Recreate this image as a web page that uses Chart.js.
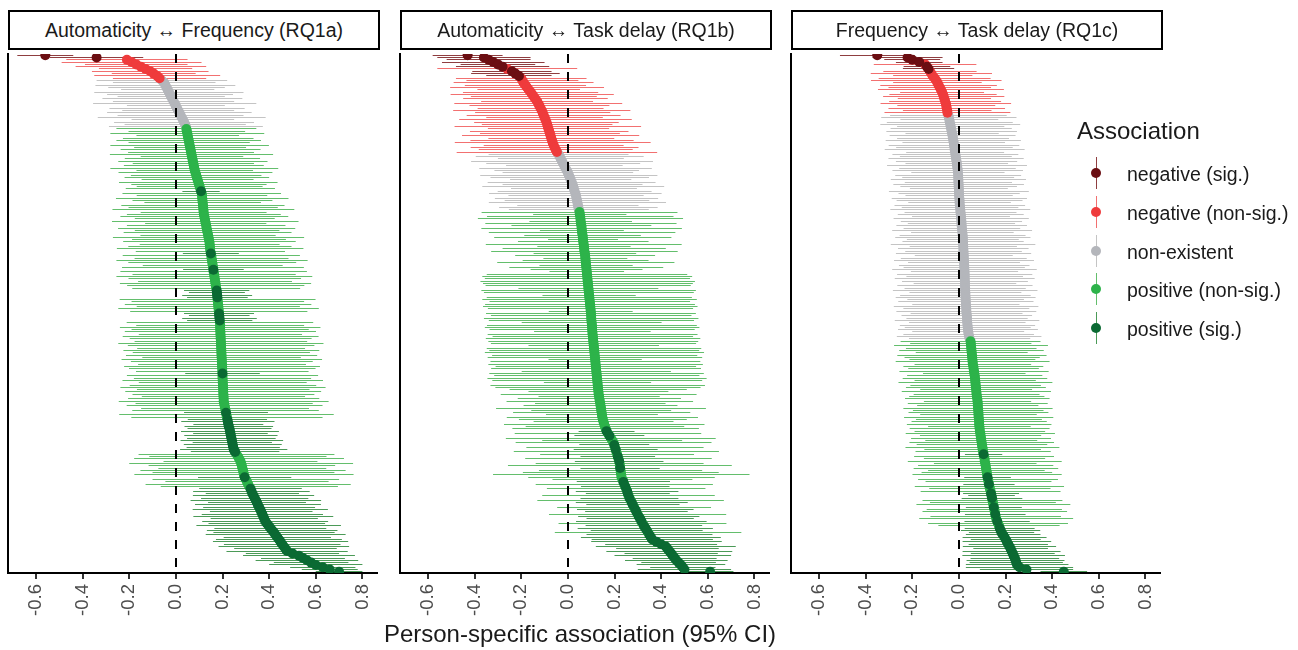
<!DOCTYPE html>
<html>
<head>
<meta charset="utf-8">
<script src="https://cdn.jsdelivr.net/npm/chart.js@4.4.1/dist/chart.umd.min.js"></script>
<style>
  body { margin: 0; background: #fff; }
  #wrap { position: relative; width: 1298px; height: 650px; overflow: hidden;
          font-family: "Liberation Sans", Arial, Helvetica, sans-serif; color: #1a1a1a; }
  #wrap canvas { position: absolute; }
  .strip { position: absolute; top: 10px; height: 40px; box-sizing: border-box; border: 2px solid #000;
           background: #fff; text-align: center; font-size: 19.5px; line-height: 36px; z-index: 2; white-space: nowrap; }
  .xtitle { position: absolute; left: 8px; width: 1144px; top: 622px; text-align: center;
            font-size: 24px; line-height: 24px; white-space: nowrap; }
  .legTitle { position: absolute; left: 1077px; top: 119px; font-size: 24px; line-height: 24px; }
  .legLine { position: absolute; width: 1px; height: 32px; }
  .legDot { position: absolute; width: 10px; height: 10px; border-radius: 50%; }
  .legLabel { position: absolute; left: 1127px; font-size: 19.5px; line-height: 20px; white-space: nowrap; }
</style>
</head>
<body>
<div id="wrap"></div>
<script>
// Person-specific associations, one row per person, sorted by estimate (row 0 at top).
// Categories: D = negative (sig.), R = negative (non-sig.), G = non-existent,
//             L = positive (non-sig.), K = positive (sig.)

const X_TICKS = [-0.6, -0.4, -0.2, 0, 0.2, 0.4, 0.6, 0.8];
const PANEL_TITLES = [
  'Automaticity \u2194 Frequency (RQ1a)',
  'Automaticity \u2194 Task delay (RQ1b)',
  'Frequency \u2194 Task delay (RQ1c)'
];
const CAT_CODES = ['D', 'R', 'G', 'L', 'K'];
const CAT_LABELS = ['negative (sig.)', 'negative (non-sig.)', 'non-existent', 'positive (non-sig.)', 'positive (sig.)'];

// ---- RQ1a ----
const estA = [
  -0.56, -0.34,
  -0.21, -0.19, -0.17, -0.15, -0.13, -0.11, -0.095, -0.08, -0.07,
  -0.06, -0.05, -0.045, -0.04, -0.035, -0.03, -0.025, -0.02, -0.015, -0.01,
  -0.005, 0, 0.005, 0.01, 0.015, 0.02, 0.025, 0.03, 0.035, 0.04, 0.043,
  0.045, 0.047, 0.049, 0.051, 0.053, 0.055, 0.057, 0.059, 0.061, 0.063,
  0.065, 0.067, 0.069, 0.071, 0.073, 0.075, 0.077, 0.079, 0.081,
  0.084, 0.087, 0.09, 0.093, 0.096, 0.099, 0.102, 0.105, 0.108,
  0.111, 0.112, 0.113, 0.114, 0.115, 0.116, 0.117, 0.118, 0.119, 0.12,
  0.122, 0.124, 0.126, 0.128, 0.13, 0.132, 0.134, 0.136, 0.138, 0.14,
  0.142, 0.144, 0.145, 0.146, 0.147, 0.148, 0.15,
  0.152, 0.153, 0.155, 0.156, 0.158, 0.159, 0.161, 0.162, 0.164, 0.165, 0.167, 0.168, 0.17, 0.171, 0.173, 0.175,
  0.176, 0.177, 0.178, 0.179, 0.18, 0.181, 0.182, 0.183, 0.184, 0.185, 0.186, 0.187, 0.188, 0.189, 0.19,
  0.19, 0.19, 0.191, 0.191, 0.192, 0.192, 0.193, 0.193, 0.194, 0.194,
  0.195, 0.195, 0.196, 0.196, 0.197, 0.197, 0.198, 0.198, 0.199, 0.199,
  0.2, 0.2, 0.2, 0.201, 0.201, 0.202, 0.202, 0.203, 0.203, 0.204, 0.204, 0.205, 0.205,
  0.207, 0.209, 0.211, 0.213, 0.215, 0.217, 0.219, 0.221, 0.223, 0.225, 0.227, 0.23,
  0.232, 0.234, 0.236, 0.238, 0.24, 0.242, 0.244, 0.246, 0.248,
  0.254, 0.26, 0.266, 0.271, 0.277,
  0.28, 0.283, 0.285, 0.288, 0.29, 0.292, 0.295,
  0.3, 0.305, 0.31, 0.315, 0.32, 0.324, 0.328,
  0.333, 0.338, 0.343, 0.348, 0.352, 0.357,
  0.362, 0.366, 0.371, 0.375, 0.379, 0.383,
  0.39, 0.398, 0.405, 0.413, 0.421,
  0.428, 0.435, 0.442, 0.449, 0.456, 0.463, 0.47, 0.477,
  0.5, 0.528, 0.545, 0.562, 0.58, 0.6, 0.63, 0.66, 0.7
];
// half width of the 95% CI
const hwA = [
  0.12, 0.2,
  0.26, 0.3, 0.22, 0.28, 0.2, 0.25, 0.18, 0.27, 0.2,
  0.28, 0.22, 0.3, 0.25, 0.2, 0.32, 0.27, 0.23, 0.3, 0.26,
  0.35, 0.21, 0.29, 0.24, 0.31, 0.27, 0.36, 0.22, 0.3, 0.26, 0.33,
  0.3, 0.25, 0.33, 0.22, 0.28, 0.31, 0.26, 0.34, 0.24, 0.3,
  0.27, 0.35, 0.22, 0.29, 0.32, 0.26, 0.3, 0.36, 0.25, 0.33,
  0.28, 0.31, 0.24, 0.34, 0.29, 0.27, 0.32,
  0.08,
  0.34, 0.28, 0.37, 0.3, 0.25, 0.35, 0.32, 0.39, 0.27, 0.33,
  0.36, 0.3, 0.4, 0.26, 0.34, 0.38, 0.31, 0.36, 0.29, 0.41,
  0.33, 0.37, 0.3, 0.35, 0.4, 0.32,
  0.12,
  0.38, 0.33, 0.41, 0.36, 0.3, 0.39,
  0.13,
  0.4, 0.35, 0.42, 0.37, 0.33, 0.41, 0.38, 0.36,
  0.14, 0.12, 0.15, 0.13,
  0.42, 0.37, 0.4, 0.35, 0.43, 0.38,
  0.15, 0.13, 0.16, 0.14,
  0.4, 0.36, 0.43, 0.38, 0.41, 0.35, 0.42, 0.39, 0.37, 0.44,
  0.4, 0.36, 0.42, 0.38, 0.41, 0.34, 0.43, 0.39, 0.36, 0.42,
  0.4, 0.37,
  0.16,
  0.41, 0.38, 0.43, 0.36, 0.4, 0.44, 0.37, 0.42, 0.39, 0.35, 0.41, 0.45, 0.38, 0.42, 0.36, 0.4,
  0.18,
  0.46, 0.41,
  0.17, 0.2, 0.15, 0.19, 0.18, 0.21, 0.16, 0.2, 0.19, 0.22, 0.17, 0.21, 0.2, 0.23, 0.19,
  0.42, 0.38, 0.45, 0.33, 0.48, 0.4, 0.36, 0.44, 0.39, 0.47,
  0.2,
  0.4, 0.35, 0.44, 0.38,
  0.22, 0.25, 0.2, 0.26, 0.23, 0.28, 0.21, 0.27, 0.24, 0.29,
  0.22, 0.26, 0.3, 0.23, 0.27, 0.25, 0.31, 0.24, 0.28, 0.26,
  0.3, 0.23, 0.27, 0.29, 0.25, 0.28, 0.22, 0.26, 0.2, 0.24,
  0.18, 0.22, 0.16, 0.2, 0.14, 0.12, 0.1
];
const catA =
  'DDRRRRRRRRRGGGGGGGGGGGGGG' +
  'GGGGGGGLLLLLLLLLLLLLLLLLL' +
  'LLLLLLLLLKLLLLLLLLLLLLLLL' +
  'LLLLLLLLLLLKLLLLLLKLLLLLL' +
  'LLKKKKLLLLLLKKKKLLLLLLLLL' +
  'LLLLLLLLLLLLLKLLLLLLLLLLL' +
  'LLLLLKLLKKKKKKKKKKKKKKKLL' +
  'LLLLLLLLKLLLLKKKKKKKKKKKK' +
  'KKKKKKKKKKKKKKKKKKKKKKKKK';

// ---- RQ1b ----
const estB = [
  -0.43,
  -0.36, -0.34, -0.32, -0.3, -0.28, -0.26, -0.24, -0.225, -0.21,
  -0.2, -0.195, -0.19, -0.182, -0.175, -0.168, -0.16, -0.153, -0.146, -0.139,
  -0.132, -0.127, -0.122, -0.117, -0.112, -0.108, -0.104, -0.1, -0.096, -0.092,
  -0.089, -0.086, -0.083, -0.08, -0.077, -0.074, -0.071, -0.068, -0.065, -0.061,
  -0.057, -0.052, -0.047,
  -0.04, -0.035, -0.03, -0.025, -0.02, -0.015, -0.01, -0.005, 0, 0.004,
  0.008, 0.012, 0.016, 0.02, 0.023, 0.026, 0.029, 0.032, 0.035, 0.037,
  0.039, 0.041, 0.043, 0.045, 0.047,
  0.05, 0.051, 0.053, 0.054, 0.055, 0.056, 0.058, 0.059, 0.06, 0.061,
  0.063, 0.064, 0.065, 0.066, 0.068, 0.069, 0.07, 0.071, 0.073, 0.074,
  0.075, 0.076, 0.077, 0.078, 0.079, 0.08,
  0.081, 0.082, 0.083, 0.084, 0.085, 0.086, 0.087, 0.088, 0.089, 0.09,
  0.091, 0.092, 0.093, 0.094, 0.095, 0.096, 0.097, 0.098, 0.099, 0.1,
  0.1, 0.101, 0.102, 0.103, 0.104, 0.104, 0.105, 0.106, 0.107,
  0.108, 0.109, 0.11, 0.111, 0.112, 0.113, 0.114, 0.115, 0.116, 0.117,
  0.118, 0.119, 0.12, 0.121, 0.122, 0.123, 0.124, 0.125, 0.126, 0.127,
  0.128, 0.129, 0.13, 0.131, 0.132, 0.134, 0.135, 0.137,
  0.139, 0.14, 0.142, 0.143, 0.145, 0.146, 0.148, 0.15,
  0.153, 0.156, 0.159, 0.162, 0.166,
  0.172, 0.178, 0.184, 0.19, 0.196,
  0.199, 0.202, 0.205, 0.208, 0.211, 0.214, 0.217, 0.22, 0.222,
  0.223, 0.224, 0.226, 0.227, 0.229, 0.23,
  0.234, 0.238, 0.242, 0.246, 0.25, 0.254, 0.257, 0.26, 0.264,
  0.269, 0.274, 0.279, 0.284, 0.289, 0.294,
  0.299, 0.304, 0.31, 0.315, 0.32,
  0.326, 0.332, 0.338, 0.344, 0.35, 0.356, 0.362,
  0.38, 0.4, 0.42,
  0.427, 0.435, 0.443, 0.45, 0.458, 0.465,
  0.475, 0.485, 0.493, 0.5,
  0.61
];
const hwB = [
  0.15, 0.2, 0.18, 0.22, 0.16, 0.2, 0.3, 0.17, 0.19, 0.14,
  0.28, 0.24, 0.3, 0.26, 0.33, 0.22, 0.29, 0.35, 0.27, 0.31,
  0.24, 0.36, 0.3, 0.27, 0.38, 0.29, 0.33, 0.25, 0.37, 0.31,
  0.28, 0.4, 0.26, 0.34, 0.3, 0.38, 0.27, 0.35, 0.42, 0.3,
  0.36, 0.33, 0.43,
  0.3, 0.36, 0.27, 0.39, 0.33, 0.25, 0.37, 0.31, 0.28, 0.38,
  0.34, 0.26, 0.36, 0.3, 0.39, 0.27, 0.33, 0.37, 0.29, 0.35,
  0.31, 0.38, 0.26, 0.34, 0.3,
  0.42, 0.2, 0.4, 0.44, 0.22, 0.41, 0.3, 0.43, 0.18, 0.4,
  0.25, 0.38, 0.15, 0.28, 0.42, 0.2, 0.35, 0.4, 0.22, 0.3,
  0.18, 0.27, 0.38, 0.2, 0.33, 0.24, 0.16, 0.43, 0.45, 0.44,
  0.46, 0.45, 0.44, 0.3, 0.46, 0.45, 0.2, 0.44, 0.46, 0.43,
  0.45, 0.46, 0.44, 0.18, 0.45, 0.43, 0.46, 0.44, 0.3, 0.45,
  0.46, 0.44, 0.25, 0.45, 0.43, 0.46, 0.45, 0.44, 0.28, 0.46,
  0.45, 0.47, 0.44, 0.46, 0.2, 0.45, 0.46, 0.43, 0.45, 0.32,
  0.46, 0.44, 0.47, 0.45, 0.23, 0.46, 0.44, 0.38, 0.3, 0.42,
  0.26, 0.35, 0.4, 0.28, 0.33, 0.45, 0.3, 0.38, 0.24, 0.41,
  0.36, 0.3, 0.43, 0.34, 0.4,
  0.12, 0.4, 0.15, 0.45, 0.3, 0.42, 0.15, 0.38, 0.18, 0.44,
  0.33, 0.16, 0.4, 0.19, 0.36, 0.48, 0.17, 0.35, 0.42, 0.55,
  0.4, 0.3, 0.2, 0.38, 0.19, 0.34, 0.22, 0.18, 0.37, 0.21,
  0.4, 0.24, 0.2, 0.33, 0.25, 0.22, 0.38, 0.26, 0.23, 0.28,
  0.36, 0.25, 0.29, 0.24, 0.4, 0.27, 0.3, 0.26, 0.28, 0.24,
  0.3, 0.22, 0.27, 0.2, 0.25, 0.18, 0.22, 0.16, 0.19, 0.14,
  0.2, 0.1
];
const catB =
  'DDDDDDRDDDRRRRRRRRRRRRRRR' +
  'RRRRRRRRRRRRRRRRRRGGGGGGG' +
  'GGGGGGGGGGGGGGGGGGLLLLLLL' +
  'LLLLLLLLLLLLLLLLLLLLLLLLL' +
  'LLLLLLLLLLLLLLLLLLLLLLLLL' +
  'LLLLLLLLLLLLLLLLLLLLLLLLL' +
  'LLLLLLLLLLLLLKLKLLLKLKLLK' +
  'LKLLKLLLLLKLKLKKLKLKKLKKL' +
  'KKKLKKKLKKKKKKKKKKKKKKKKK';

// ---- RQ1c ----
const estC = [
  -0.35, -0.22, -0.2, -0.17, -0.145, -0.137, -0.13,
  -0.124, -0.118, -0.112, -0.104, -0.097, -0.092, -0.087, -0.082, -0.077, -0.072,
  -0.068, -0.065, -0.062, -0.059, -0.056, -0.054, -0.052, -0.05, -0.049,
  -0.045, -0.043, -0.041, -0.039, -0.037, -0.035, -0.033, -0.031, -0.029, -0.027, -0.025,
  -0.024, -0.022, -0.021, -0.019, -0.018, -0.016, -0.015, -0.013, -0.012, -0.01,
  -0.009, -0.008, -0.006, -0.005, -0.004,
  -0.003, -0.003, -0.002, -0.002, -0.001, -0.001, 0, 0, 0.001, 0.001, 0.002, 0.003, 0.003, 0.004,
  0.005, 0.006, 0.007, 0.008, 0.009, 0.01, 0.011, 0.011, 0.012, 0.013, 0.014, 0.015, 0.016, 0.017,
  0.017, 0.018, 0.018, 0.019, 0.019, 0.02, 0.02, 0.021, 0.021, 0.022,
  0.022, 0.023, 0.023, 0.024, 0.024, 0.025, 0.025, 0.025, 0.026, 0.026, 0.026,
  0.027, 0.027, 0.028, 0.028, 0.029, 0.029, 0.03, 0.03, 0.031, 0.032,
  0.032, 0.033, 0.034, 0.035, 0.035, 0.036, 0.037, 0.038, 0.039, 0.04,
  0.042, 0.044, 0.046,
  0.05, 0.051, 0.052, 0.053, 0.054, 0.055, 0.056, 0.057, 0.058, 0.059,
  0.06, 0.062, 0.063, 0.065, 0.066, 0.068,
  0.069, 0.07, 0.071, 0.072, 0.073, 0.074, 0.075, 0.076, 0.077, 0.079, 0.08,
  0.081, 0.081, 0.082, 0.083, 0.084, 0.084, 0.085, 0.086, 0.087, 0.087, 0.088, 0.089,
  0.09, 0.092, 0.093, 0.095, 0.096, 0.098, 0.099, 0.101, 0.102, 0.104, 0.106,
  0.108, 0.11, 0.111, 0.113, 0.115, 0.116, 0.118, 0.12, 0.121, 0.123,
  0.125, 0.127, 0.129, 0.131, 0.133, 0.136,
  0.138, 0.14, 0.142, 0.144, 0.146, 0.148, 0.15, 0.152, 0.154, 0.156, 0.158, 0.16,
  0.164, 0.168, 0.172, 0.175, 0.179, 0.183,
  0.19, 0.196, 0.201, 0.206, 0.212, 0.217,
  0.222, 0.226, 0.231, 0.235, 0.24,
  0.243, 0.246, 0.25, 0.26, 0.29, 0.45
];
const hwC = [
  0.16, 0.15, 0.12, 0.1, 0.22, 0.1, 0.11,
  0.2, 0.26, 0.17, 0.24, 0.28, 0.19, 0.25, 0.22, 0.27, 0.18,
  0.23, 0.26, 0.2, 0.24, 0.28, 0.21, 0.25, 0.19, 0.27,
  0.25, 0.29, 0.21, 0.27, 0.3, 0.23, 0.26, 0.28, 0.2, 0.27,
  0.24, 0.29, 0.22, 0.28, 0.25, 0.3, 0.21, 0.27, 0.24, 0.29,
  0.26, 0.22, 0.3, 0.25, 0.28, 0.2, 0.27, 0.24, 0.29, 0.23,
  0.28, 0.25, 0.21, 0.3, 0.26, 0.23, 0.29, 0.27, 0.22, 0.28,
  0.25, 0.3, 0.24, 0.27, 0.21, 0.29, 0.26, 0.23, 0.28, 0.25,
  0.3, 0.22, 0.27, 0.29, 0.24, 0.26, 0.31, 0.23, 0.28, 0.25,
  0.29, 0.21, 0.27, 0.3, 0.24, 0.28, 0.26, 0.31, 0.23, 0.29,
  0.25, 0.3, 0.27, 0.22, 0.29, 0.26, 0.31, 0.24, 0.28, 0.3,
  0.25, 0.29, 0.23, 0.31, 0.27, 0.3, 0.24, 0.28, 0.26, 0.31,
  0.25, 0.29, 0.27, 0.3, 0.24, 0.28, 0.31, 0.26,
  0.3, 0.26, 0.33, 0.28, 0.31, 0.24, 0.32, 0.29, 0.27, 0.33,
  0.25, 0.3, 0.28, 0.32, 0.22, 0.29, 0.31, 0.26, 0.33, 0.28,
  0.3, 0.24, 0.32, 0.27, 0.29, 0.31, 0.23, 0.3, 0.26, 0.32,
  0.28, 0.3, 0.25, 0.32, 0.27, 0.29, 0.31, 0.22, 0.3, 0.28,
  0.32, 0.26, 0.3, 0.24, 0.31, 0.28, 0.33, 0.25, 0.29,
  0.08,
  0.3, 0.26, 0.33, 0.22, 0.29, 0.31, 0.25, 0.28, 0.32,
  0.1,
  0.3, 0.27,
  0.11,
  0.32, 0.26, 0.3,
  0.12, 0.1, 0.13,
  0.3, 0.27, 0.33,
  0.12,
  0.29, 0.31,
  0.13,
  0.28, 0.33,
  0.14,
  0.3, 0.26,
  0.15, 0.17, 0.14, 0.16, 0.18, 0.15, 0.19, 0.17, 0.2, 0.16,
  0.21, 0.18, 0.22, 0.19, 0.21, 0.2, 0.22, 0.23, 0.2, 0.1
];
const catC =
  'DDDDRDDRRRRRRRRRRRRRRRRRR' +
  'RGGGGGGGGGGGGGGGGGGGGGGGG' +
  'GGGGGGGGGGGGGGGGGGGGGGGGG' +
  'GGGGGGGGGGGGGGGGGGGGGGGGG' +
  'GGGGGGGGGGGGGGGGGGGGGGGGL' +
  'LLLLLLLLLLLLLLLLLLLLLLLLL' +
  'LLLLLLLLLLLLLLLLLLLLLLLKL' +
  'LLLLLLLLKLLKLLLKKKLLLKLLK' +
  'LLKLLKKKKKKKKKKKKKKKKKKKK';

// ---- styling ----
const POINT_COLOR = {D: '#6b0e12', R: '#ef3b3c', G: '#b4b6bb', L: '#2db34a', K: '#0b6a33'};
const LINE_COLOR  = {D: '#8f3e40', R: '#f27070', G: '#c4c4c4', L: '#63be6c', K: '#4b9a57'};
const PANEL_LEFT = [8, 400, 791];
const PANEL_W = 372;
const PLOT_TOP = 49;
const PLOT_H = 524;
const AXIS_H = 60;
const FONT = '"Liberation Sans", Arial, Helvetica, sans-serif';

Chart.defaults.font.family = FONT;

const wrap = document.getElementById('wrap');

function addDiv(cls, css, text) {
  const d = document.createElement('div');
  d.className = cls;
  Object.assign(d.style, css);
  if (text != null) d.textContent = text;
  wrap.appendChild(d);
  return d;
}

function makePanel(idx, est, hw, cats) {
  if (est.length !== hw.length || est.length !== cats.length) {
    throw new Error('panel ' + idx + ' length mismatch: ' + est.length + ' / ' + hw.length + ' / ' + cats.length);
  }
  const n = est.length;
  const left = PANEL_LEFT[idx];

  addDiv('strip', {left: left + 'px', width: PANEL_W + 'px'}, PANEL_TITLES[idx]);

  const canvas = document.createElement('canvas');
  canvas.width = PANEL_W + 18;
  canvas.height = PLOT_H + AXIS_H;
  canvas.style.left = (left - 8) + 'px';
  canvas.style.top = PLOT_TOP + 'px';
  wrap.appendChild(canvas);

  // horizontal CI lines, drawn under the points (snapped to whole pixels so they stay crisp)
  const ciLines = {
    id: 'ciLines',
    beforeDatasetsDraw(chart) {
      const {ctx, chartArea: a, scales: {x, y}} = chart;
      ctx.save();
      ctx.beginPath();
      ctx.rect(a.left, a.top, a.right - a.left, a.bottom - a.top);
      ctx.clip();
      ctx.lineWidth = 1;
      for (let i = 0; i < n; i++) {
        const py = Math.floor(y.getPixelForValue(i)) + 0.5;
        ctx.strokeStyle = LINE_COLOR[cats[i]];
        ctx.beginPath();
        ctx.moveTo(x.getPixelForValue(est[i] - hw[i]), py);
        ctx.lineTo(x.getPixelForValue(est[i] + hw[i]), py);
        ctx.stroke();
      }
      ctx.restore();
    }
  };

  // dashed reference line at zero, on top of everything
  const zeroLine = {
    id: 'zeroLine',
    afterDatasetsDraw(chart) {
      const {ctx, chartArea: a, scales: {x}} = chart;
      const px = Math.round(x.getPixelForValue(0));
      ctx.save();
      ctx.strokeStyle = '#000';
      ctx.lineWidth = 2;
      ctx.setLineDash([9, 9]);
      ctx.beginPath();
      ctx.moveTo(px, a.top);
      ctx.lineTo(px, a.bottom);
      ctx.stroke();
      ctx.restore();
    }
  };

  // sig. categories drawn on top
  const datasets = ['K', 'D', 'L', 'R', 'G'].map(code => ({
    label: code,
    data: est.map((v, i) => ({x: v, y: i})).filter((p, i) => cats[i] === code),
    backgroundColor: POINT_COLOR[code],
    borderWidth: 0,
    pointRadius: 5,
    pointHoverRadius: 5,
    clip: 0
  }));

  new Chart(canvas, {
    type: 'scatter',
    data: {datasets},
    options: {
      responsive: false,
      animation: false,
      events: [],
      layout: {padding: {left: 7, right: 10, top: 0, bottom: 0}},
      plugins: {legend: {display: false}, tooltip: {enabled: false}},
      scales: {
        x: {
          type: 'linear',
          min: -0.72,
          max: 0.862,
          afterBuildTicks: axis => { axis.ticks = X_TICKS.map(v => ({value: v})); },
          afterFit: axis => { axis.height = AXIS_H; },
          grid: {drawOnChartArea: false, drawTicks: true, tickLength: 6, color: '#333333', lineWidth: 2},
          border: {display: true, color: '#000', width: 2},
          ticks: {
            autoSkip: false,
            minRotation: 90,
            maxRotation: 90,
            padding: 5,
            color: '#4d4d4d',
            font: {size: 18.5},
            callback: v => v.toFixed(1)
          }
        },
        y: {
          type: 'linear',
          reverse: true,
          min: -0.5,
          max: n - 0.5,
          ticks: {display: false},
          grid: {drawOnChartArea: false, drawTicks: false},
          border: {display: true, color: '#000', width: 2},
          afterFit: axis => { axis.width = 1; }
        }
      }
    },
    plugins: [ciLines, zeroLine]
  });
}

makePanel(0, estA, hwA, catA);
makePanel(1, estB, hwB, catB);
makePanel(2, estC, hwC, catC);

addDiv('xtitle', {}, 'Person-specific association (95% CI)');

// legend
addDiv('legTitle', {}, 'Association');
CAT_CODES.forEach((code, i) => {
  const cy = 173 + i * 38.8;
  addDiv('legLine', {left: '1095.5px', top: (cy - 16) + 'px', background: LINE_COLOR[code]});
  addDiv('legDot', {left: '1091px', top: (cy - 5) + 'px', background: POINT_COLOR[code]});
  addDiv('legLabel', {top: (cy - 9) + 'px'}, CAT_LABELS[i]);
});
</script>
</body>
</html>
